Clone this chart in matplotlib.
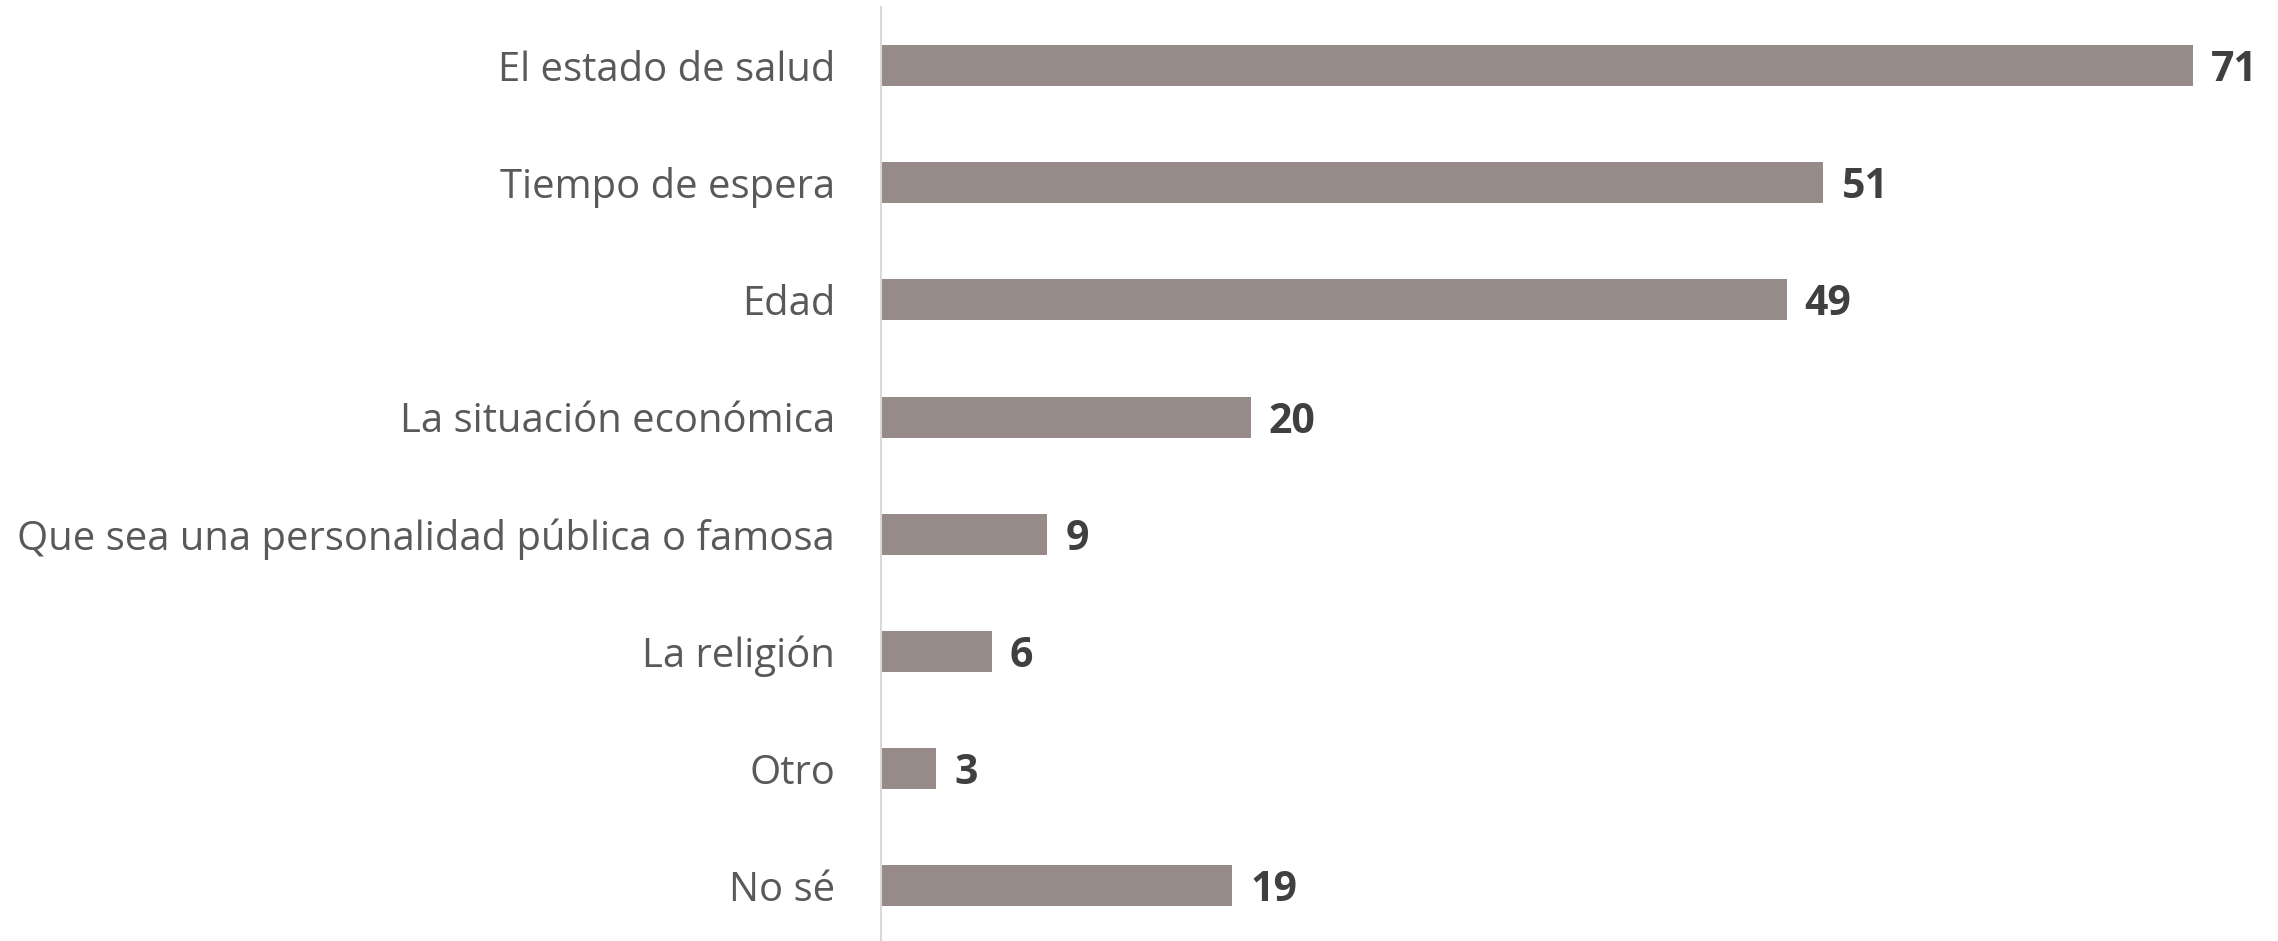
import matplotlib
matplotlib.use("Agg")
import matplotlib.pyplot as plt

categories = ["El estado de salud", "Tiempo de espera", "Edad", "La situación económica",
              "Que sea una personalidad pública o famosa", "La religión", "Otro", "No sé"]
values = [71, 51, 49, 20, 9, 6, 3, 19]

W, H, DPI = 2278, 941, 100
fig = plt.figure(figsize=(W / DPI, H / DPI), dpi=DPI)
left_px, top_px, bottom_px = 881, 7, 941
ax = fig.add_axes([left_px / W, 1 - bottom_px / H, (W - left_px) / W, (bottom_px - top_px) / H])

pos = list(range(len(categories)))
ax.barh(pos, values, height=0.35, color="#968B89", edgecolor="none")
ax.set_xlim(0, (W - left_px) / 18.48)
ax.set_ylim(7.47, -0.5)
ax.set_yticks(pos)
ax.set_yticklabels(categories, fontsize=28.8, color="#595959", family=["Open Sans", "DejaVu Sans"])
ax.tick_params(axis="y", length=0, pad=33)
ax.set_xticks([])
for s in ["top", "right", "bottom"]:
    ax.spines[s].set_visible(False)
ax.spines["left"].set_color("#d9d9d9")
ax.spines["left"].set_linewidth(1.5)

for p, v in zip(pos, values):
    ax.annotate(str(v), xy=(v, p), xytext=(13, 0), textcoords="offset points",
                ha="left", va="center_baseline", fontsize=29.5, fontweight="bold", color="#404040",
                family=["Open Sans", "DejaVu Sans"])

fig.savefig("out.png", dpi=DPI, facecolor="white")
